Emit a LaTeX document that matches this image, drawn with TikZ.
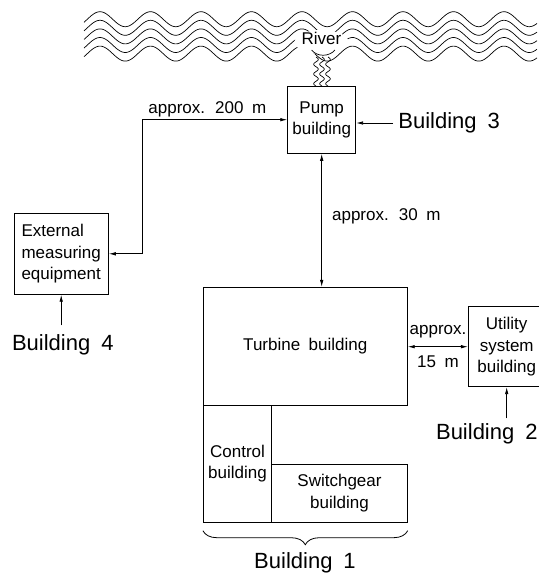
\documentclass[tikz,border=0pt]{standalone}
\usepackage{fontspec}
\setmainfont{Liberation Sans}[WordSpace=1.8]
\usetikzlibrary{arrows.meta,decorations.pathreplacing}
\begin{document}
\begin{tikzpicture}[x=1pt,y=-1pt,line width=0.8pt,
  box/.style={draw,line width=0.8pt,inner sep=0pt,align=center,font=\fontsize{17}{21.5}\selectfont},
  lbl/.style={inner sep=0pt,font=\fontsize{17}{21.5}\selectfont},
  big/.style={inner sep=0pt,font=\fontsize{22}{26}\selectfont},
  arr/.style={-{Latex[length=7pt,width=3.5pt]}},
  darr/.style={{Latex[length=7pt,width=3.5pt]}-{Latex[length=7pt,width=3.5pt]}},
  wave/.style={line width=0.7pt}]
\useasboundingbox (0,0) rectangle (539,574);

% river
\foreach \k in {0,...,4}
  \draw[wave] plot[domain=84:537,samples=300,smooth] (\x,{19.2+8.6*\k-7.5*cos(7.1287*(\x-100))});
\fill[white] (321.5,42) ellipse [x radius=27pt, y radius=12pt];
\draw[wave] (311.7,50) .. controls (317,57) and (329,57) .. (335,50);
\node[lbl] (river) at (321.5,38) {River};
\foreach \xo in {316,322,328}
  \draw[wave] plot[domain=57:86,samples=80,smooth] ({\xo+2.3*sin(37.11*(\x-57))},\x);

% buildings
\node[box,minimum width=68pt,minimum height=67.3pt] (pump) at (321.7,119.7) {Pump\\building};
\node[box,align=left,minimum width=94.3pt,minimum height=81pt] (ext) at (61.2,253.8) {External\\measuring\\equipment};
\node[box,minimum width=204pt,minimum height=117.7pt] (turb) at (305.3,346.2) {Turbine building};
\node[box,minimum width=68.4pt,minimum height=117.3pt] (ctrl) at (237.5,463.65) {Control\\building};
\node[box,minimum width=135.6pt,minimum height=58.3pt] (sw) at (339.5,493.15) {Switchgear\\building};
\node[box,minimum width=76.7pt,minimum height=80pt] (util) at (506.7,346.7) {Utility\\system\\building};

% labels
\node[big,anchor=west] (b3) at (398,123) {Building 3};
\node[big] (b4) at (62.8,345) {Building 4};
\node[big,anchor=east] (b2) at (538,434) {Building 2};
\node[big] (b1) at (305,562.7) {Building 1};
\node[lbl] (l200) at (207.3,109.3) {approx. 200 m};
\node[lbl,anchor=west] (l30) at (331.7,216) {approx. 30 m};
\node[lbl] (l15a) at (438,331.7) {approx.};
\node[lbl] (l15b) at (438,361.7) {15 m};

% connectors
\coordinate (c1) at (142.7,253.8);
\draw[darr] (ext.east) -- (c1) |- (pump.west);
\draw[darr] (pump.south) -- (pump.south |- turb.north);
\draw[darr] (turb.east |- util.west) -- (util.west);
\draw[arr] ([xshift=-5pt]b3.west) -- (pump.east |- b3.west);
\draw[arr] ([yshift=9pt]b4.north -| ext.south) -- (ext.south);
\draw[arr] ([yshift=5pt]b2.north -| util.south) -- (util.south);
\draw[decorate,decoration={brace,amplitude=14pt}] ([yshift=-8pt]sw.south east) -- ([yshift=-8pt]ctrl.south west);
\end{tikzpicture}
\end{document}
